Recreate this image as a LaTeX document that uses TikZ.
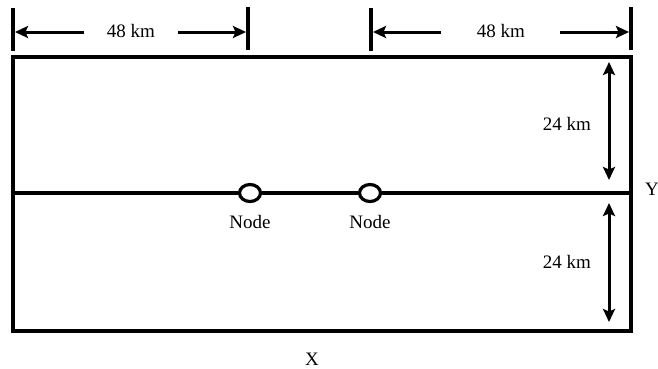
\documentclass[tikz,border=0pt]{standalone}
\usepackage{fontspec}
\setmainfont{Liberation Serif}
\usetikzlibrary{arrows.meta,shapes.geometric}
\tikzset{
  thick line/.style={line width=3.2pt},
  tick/.style={line width=3.2pt},
  dimarrow/.style={line width=3pt, -{Stealth[length=13pt,width=12pt,inset=2.5pt]}},
  dimarrows/.style={line width=3pt, {Stealth[length=13pt,width=12pt,inset=2.5pt]}-{Stealth[length=13pt,width=12pt,inset=2.5pt]}},
  lbl/.style={font=\fontsize{19}{22}\selectfont, inner sep=0pt},
  nodecirc/.style={draw, line width=3.2pt, fill=white, ellipse, minimum width=21pt, minimum height=17pt, inner sep=0pt}
}
\begin{document}
\begin{tikzpicture}[x=1pt,y=-1pt]
\useasboundingbox (0,0) rectangle (658,368);
% outer box
\draw[thick line] (13,57) rectangle (631,331);
% midline with nodes
\coordinate (ml) at (13,193);
\coordinate (mr) at (631,193);
\node[nodecirc] (n1) at (250,193) {};
\node[nodecirc] (n2) at (370,193) {};
\draw[thick line] (ml) -- (n1);
\draw[thick line] (n1) -- (n2);
\draw[thick line] (n2) -- (mr);
\node[lbl] (l1) at (250,222) {Node};
\node[lbl] (l2) at (370,222) {Node};
% top dimensions
\coordinate (t1a) at (13,8); \coordinate (t1b) at (13,51);
\coordinate (t2a) at (248,7); \coordinate (t2b) at (248,50);
\coordinate (t3a) at (371,8); \coordinate (t3b) at (371,51);
\coordinate (t4a) at (631,7); \coordinate (t4b) at (631,50);
\draw[tick] (t1a) -- (t1b);
\draw[tick] (t2a) -- (t2b);
\draw[tick] (t3a) -- (t3b);
\draw[tick] (t4a) -- (t4b);
\node[lbl] (d1) at (131,31) {48 km};
\node[lbl] (d2) at (501,31) {48 km};
\coordinate (a1s) at (84,32); \coordinate (a1e) at (15,32);
\coordinate (a2s) at (178,32); \coordinate (a2e) at (246,32);
\coordinate (a3s) at (441,32); \coordinate (a3e) at (373,32);
\coordinate (a4s) at (560,32); \coordinate (a4e) at (629,32);
\draw[dimarrow] (a1s) -- (a1e);
\draw[dimarrow] (a2s) -- (a2e);
\draw[dimarrow] (a3s) -- (a3e);
\draw[dimarrow] (a4s) -- (a4e);
% right vertical dimensions
\coordinate (v1a) at (609,62); \coordinate (v1b) at (609,180);
\coordinate (v2a) at (609,203); \coordinate (v2b) at (609,322);
\draw[dimarrows] (v1a) -- (v1b);
\draw[dimarrows] (v2a) -- (v2b);
\node[lbl] (h1) at (567,124) {24 km};
\node[lbl] (h2) at (567,262) {24 km};
% axis labels
\node[lbl, anchor=west] (Y) at (645,189) {Y};
\node[lbl] (X) at (312,359) {X};
\end{tikzpicture}
\end{document}
